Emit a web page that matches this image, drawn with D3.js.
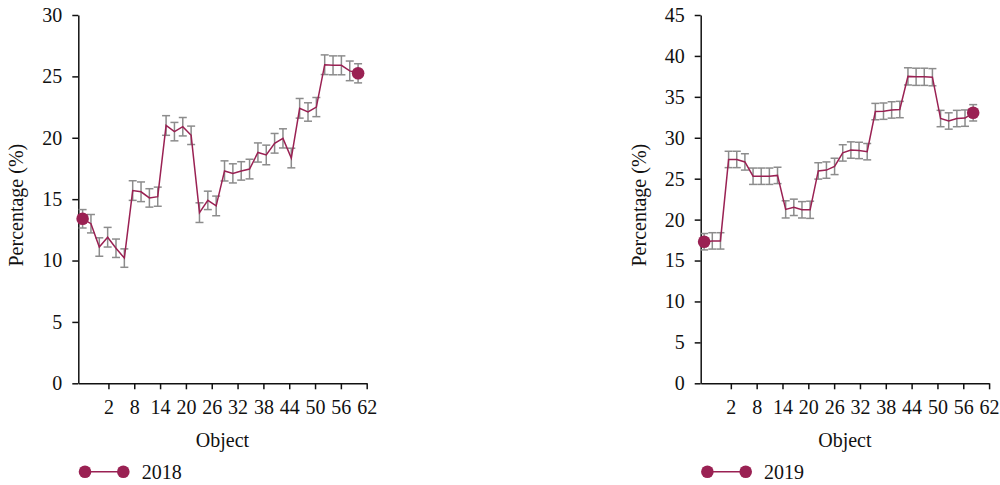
<!DOCTYPE html>
<html>
<head>
<meta charset="utf-8">
<script src="https://cdn.jsdelivr.net/npm/d3@7"></script>
<style>
  html, body { margin: 0; padding: 0; background: #fff; }
  svg { display: block; }
</style>
</head>
<body>
<svg id="chart" width="1000" height="485"></svg>
<script>
// ---- data ----
const objectIds = d3.range(1, 35);            // 34 objects per year
const xTickValues = [2, 8, 14, 20, 26, 32, 38, 44, 50, 56, 62];
const yTicks2018 = [0, 5, 10, 15, 20, 25, 30];
const yTicks2019 = [0, 5, 10, 15, 20, 25, 30, 35, 40, 45];

const values2018 = [13.4, 13.0, 11.1, 11.9, 11.0, 10.2, 15.7, 15.6, 15.1, 15.2,
                    21.0, 20.5, 20.9, 20.2, 13.9, 14.9, 14.45, 17.3, 17.1, 17.3,
                    17.45, 18.8, 18.6, 19.55, 19.95, 18.35, 22.4, 22.1, 22.5, 25.95,
                    25.9, 25.9, 25.45, 25.25];
const errors2018 = [0.75, 0.75, 0.75, 0.8, 0.75, 0.75, 0.8, 0.8, 0.75, 0.78,
                    0.8, 0.75, 0.75, 0.75, 0.8, 0.75, 0.8, 0.82, 0.78, 0.75,
                    0.8, 0.78, 0.8, 0.8, 0.78, 0.8, 0.8, 0.75, 0.78, 0.8,
                    0.77, 0.77, 0.8, 0.78];

const values2019 = [17.3, 17.4, 17.4, 27.35, 27.35, 27.05, 25.3, 25.3, 25.3, 25.4,
                    21.25, 21.5, 21.2, 21.2, 25.95, 26.05, 26.5, 28.15, 28.5, 28.45,
                    28.3, 33.2, 33.25, 33.4, 33.45, 37.5, 37.45, 37.45, 37.4, 32.35,
                    32.05, 32.35, 32.4, 33.05];
const errors2019 = [1.0, 1.0, 1.0, 1.0, 1.0, 1.0, 1.0, 1.0, 1.0, 1.0,
                    1.05, 1.0, 1.0, 1.05, 1.0, 1.0, 1.0, 1.0, 1.0, 1.0,
                    1.0, 1.0, 1.0, 1.0, 1.0, 1.05, 1.05, 1.05, 1.05, 1.0,
                    1.0, 1.0, 1.0, 1.0];

const seriesNames = ["2018", "2019"];

// ---- style ----
const lineColor = "#9a2153";
const errColor = "#8c8c8c";
const fontSize = "20px";
const fontFam = '"Liberation Serif"';

const svg = d3.select("#chart");

const panels = [
  { name: seriesNames[0], values: values2018, errors: errors2018, yTicks: yTicks2018,
    left: 78.3, span: [-4, 60] },
  { name: seriesNames[1], values: values2019, errors: errors2019, yTicks: yTicks2019,
    left: 700.7, span: [-4.2, 58.3] }
];

const plotW = 288.4, plotTop = 15, plotBottom = 383.3;

function styleText(sel) {
  return sel.style("font-family", fontFam).style("font-size", fontSize).attr("fill", "#111");
}

panels.forEach(p => {
  const g = svg.append("g");
  const x = d3.scaleLinear().domain([-5, 62]).range([p.left, p.left + plotW]);
  const y = d3.scaleLinear().domain([0, d3.max(p.yTicks)]).range([plotBottom, plotTop]);
  const xp = d3.scalePoint().domain(objectIds).range([x(p.span[0]), x(p.span[1])]);

  // axes
  const xAxis = g.append("g").attr("transform", `translate(0,${plotBottom})`)
    .call(d3.axisBottom(x).tickValues(xTickValues).tickSizeInner(6).tickSizeOuter(0).tickPadding(11));
  const yAxis = g.append("g").attr("transform", `translate(${p.left},0)`)
    .call(d3.axisLeft(y).tickValues(p.yTicks).tickSizeInner(6).tickSizeOuter(0).tickPadding(10));
  [xAxis, yAxis].forEach(a => {
    a.attr("font-family", null).attr("font-size", null);
    a.select(".domain").attr("stroke", "#111").attr("stroke-width", 1.5);
    a.selectAll(".tick line").attr("stroke", "#111").attr("stroke-width", 1.5);
    styleText(a.selectAll("text"));
  });

  const data = objectIds.map((id, i) => ({ id, v: p.values[i], e: p.errors[i] }));

  // error bars
  const eb = g.append("g").attr("stroke", errColor).attr("stroke-width", 1.5).attr("fill", "none");
  eb.selectAll("line.v").data(data).join("line").attr("class", "v")
    .attr("x1", d => xp(d.id)).attr("x2", d => xp(d.id))
    .attr("y1", d => y(d.v - d.e)).attr("y2", d => y(d.v + d.e));
  eb.selectAll("line.t").data(data).join("line").attr("class", "t")
    .attr("x1", d => xp(d.id) - 4).attr("x2", d => xp(d.id) + 4)
    .attr("y1", d => y(d.v + d.e)).attr("y2", d => y(d.v + d.e));
  eb.selectAll("line.b").data(data).join("line").attr("class", "b")
    .attr("x1", d => xp(d.id) - 4).attr("x2", d => xp(d.id) + 4)
    .attr("y1", d => y(d.v - d.e)).attr("y2", d => y(d.v - d.e));

  // line
  g.append("path").datum(data)
    .attr("fill", "none").attr("stroke", lineColor).attr("stroke-width", 1.5)
    .attr("d", d3.line().x(d => xp(d.id)).y(d => y(d.v)));

  // end markers
  g.selectAll("circle.end").data([data[0], data[data.length - 1]]).join("circle")
    .attr("class", "end").attr("cx", d => xp(d.id)).attr("cy", d => y(d.v))
    .attr("r", 6.3).attr("fill", lineColor);

  // axis titles
  styleText(g.append("text").attr("x", p.left + plotW / 2).attr("y", 446.5)
    .attr("text-anchor", "middle").text("Object"));
  styleText(g.append("text")
    .attr("transform", `translate(${p.left - 55},${(plotTop + plotBottom) / 2 + 6}) rotate(-90)`)
    .attr("text-anchor", "middle").text("Percentage (%)"));

  // legend
  const lg = g.append("g").attr("transform", `translate(${p.left + 6.7},471.7)`);
  lg.append("line").attr("x1", 0).attr("x2", 38.3).attr("y1", 0).attr("y2", 0)
    .attr("stroke", lineColor).attr("stroke-width", 1.5);
  lg.selectAll("circle").data([0, 38.3]).join("circle")
    .attr("cx", d => d).attr("cy", 0).attr("r", 6.3).attr("fill", lineColor);
  styleText(lg.append("text").attr("x", 56.7).attr("y", 6.8).text(p.name));
});
</script>
</body>
</html>
